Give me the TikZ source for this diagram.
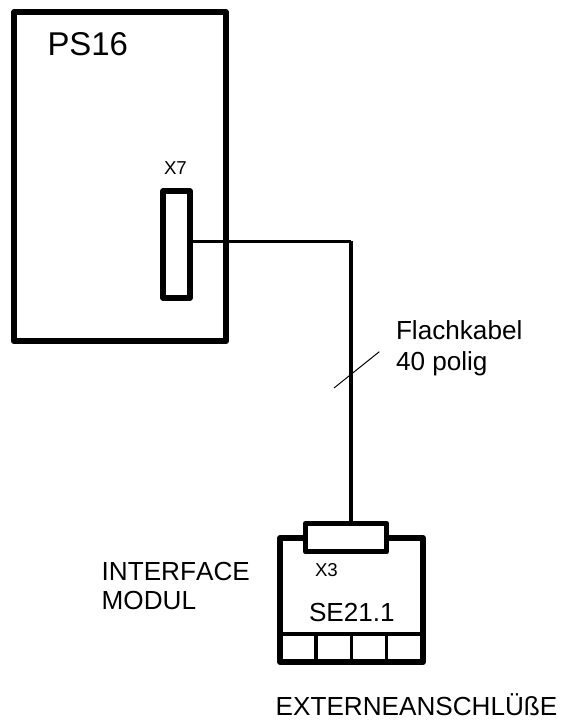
\documentclass[tikz,border=0pt]{standalone}
\usepackage{fontspec}
\setmainfont[Kerning=Off]{Liberation Sans}
\tikzset{x=0.75pt,y=-0.75pt,
 boxthick/.style={draw=black,line width=4.5pt,line join=round,fill=white,inner sep=0pt,outer sep=0pt,rectangle},
 boxconn/.style={draw=black,line width=3.9pt,line join=round,fill=white,inner sep=0pt,outer sep=0pt,rectangle},
 cell/.style={line width=2.4pt,draw=black},
 lab/.style={inner sep=0pt,outer sep=0pt,anchor=base west,text=black},
 big/.style={lab,font=\fontsize{19.6pt}{19.6pt}\selectfont},
 small/.style={lab,font=\fontsize{14pt}{14pt}\selectfont}}
\begin{document}
\begin{tikzpicture}
\useasboundingbox (0,0) rectangle (562,720);
\fill[white] (0,0) rectangle (562,720);
% PS16 housing
\node[boxthick,minimum width=159pt,minimum height=246.75pt] (ps) at (120,176.75) {};
% interface module
\node[boxthick,minimum width=107pt,minimum height=93pt] (mod) at (351.7,600) {};
\coordinate (divl) at (280.3,634);
\coordinate (divr) at (423,634);
\draw[cell,line width=2.6pt] (divl) -- (divr);
\foreach \xx/\nm in {316/ca,351.7/cb,386.7/cc}{
  \coordinate (\nm t) at (\xx,634);
  \draw[cell] (\nm t) -- (\nm t |- mod.south);
}
% connectors
\node[boxconn,minimum width=20.25pt,minimum height=80.25pt] (x7) at (176.5,244.5) {};
\node[boxconn,minimum width=60.75pt,minimum height=21.4pt] (x3) at (346,537.6) {};
\coordinate (bend) at (350.7,241.5);
\draw[line width=2.3pt] (x7.east |- bend) -- (bend);
\draw[line width=3pt] (bend) ++(0,-1) -- (bend |- x3.north);
% cable tick
\coordinate (ta) at (334,388);
\coordinate (tb) at (379.3,351.7);
\draw[line width=0.75pt] (ta) -- (tb);
% labels
\node[lab,font=\fontsize{24.7pt}{24.7pt}\selectfont] (t1) at (47.5,55.7) {PS16};
\node[small] (t2) at (164,175) {X7};
\node[big] (t3) at (396,339.3) {Flachkabel};
\node[big] (t3b) at (396,370.7) {40 polig};
\node[big] (t4) at (101.7,580) {INTERFACE};
\node[big] (t4b) at (101.7,609) {MODUL};
\node[small] (t5) at (315,576.7) {X3};
\node[big] (t6) at (309,621) {SE21.1};
\node[big] (t7) at (275.7,715.7) {EXTERNEANSCHLÜßE};
\end{tikzpicture}
\end{document}
